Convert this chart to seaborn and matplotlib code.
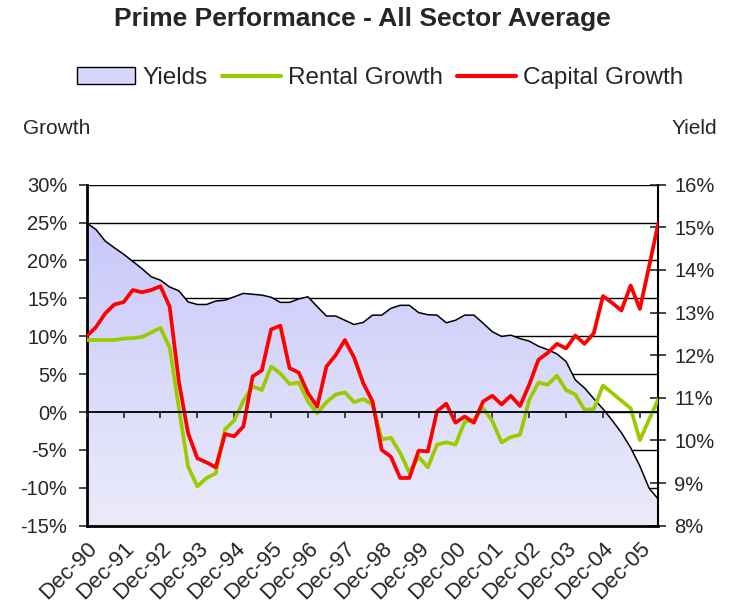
import numpy as np
import pandas as pd
import seaborn as sns
import matplotlib.pyplot as plt
from matplotlib.colors import LinearSegmentedColormap
from matplotlib.patches import Patch
from matplotlib.lines import Line2D
from matplotlib.ticker import FuncFormatter

# quarterly values, Dec-90 .. Jun-06
yields = [15.10, 14.95, 14.68, 14.52, 14.37, 14.20, 14.03, 13.84, 13.76, 13.60,
          13.51, 13.25, 13.19, 13.19, 13.27, 13.29, 13.37, 13.45, 13.43, 13.41,
          13.36, 13.24, 13.24, 13.32, 13.37, 13.14, 12.92, 12.92, 12.82, 12.72,
          12.77, 12.94, 12.94, 13.10, 13.17, 13.17, 13.00, 12.95, 12.94, 12.76,
          12.82, 12.94, 12.94, 12.75, 12.55, 12.44, 12.47, 12.39, 12.33, 12.21,
          12.13, 12.03, 11.85, 11.42, 11.23, 10.98, 10.74, 10.47, 10.18, 9.83,
          9.40, 8.88, 8.62]
rental = [9.5, 9.5, 9.5, 9.5, 9.7, 9.75, 9.9, 10.5, 11.1, 8.5,
          0.5, -7.2, -9.8, -8.7, -8.1, -2.3, -1.1, 1.5, 3.4, 2.9,
          6.0, 5.1, 3.7, 3.9, 1.4, -0.2, 1.3, 2.3, 2.6, 1.3,
          1.7, 1.0, -3.6, -3.4, -5.4, -8.0, -5.9, -7.3, -4.3, -4.0,
          -4.3, -1.3, -1.0, 0.5, -1.2, -4.0, -3.3, -3.0, 1.6, 3.9,
          3.6, 4.8, 2.9, 2.3, 0.3, 0.4, 3.5, 2.5, 1.5, 0.5,
          -3.7, -1.0, 1.7]
capital = [10.0, 11.2, 13.0, 14.2, 14.5, 16.1, 15.8, 16.1, 16.6, 13.9,
           4.0, -2.8, -6.1, -6.65, -7.3, -2.9, -3.2, -1.9, 4.7, 5.5,
           10.9, 11.4, 5.8, 5.2, 2.5, 0.7, 6.0, 7.5, 9.5, 7.2,
           3.8, 1.4, -5.0, -5.9, -8.7, -8.7, -5.1, -5.2, 0.1, 1.1,
           -1.4, -0.6, -1.4, 1.4, 2.15, 1.0, 2.15, 0.8, 3.6, 6.9,
           7.8, 9.0, 8.4, 10.1, 9.0, 10.4, 15.3, 14.4, 13.4, 16.7,
           13.6, 19.2, 24.9]
tick_labels = ['Dec-90', 'Dec-91', 'Dec-92', 'Dec-93', 'Dec-94', 'Dec-95',
               'Dec-96', 'Dec-97', 'Dec-98', 'Dec-99', 'Dec-00', 'Dec-01',
               'Dec-02', 'Dec-03', 'Dec-04', 'Dec-05']

sns.set_style('white')
plt.rcParams['font.family'] = ['Liberation Sans', 'DejaVu Sans']

df = pd.DataFrame({'q': np.arange(len(yields)), 'Yields': yields,
                   'Rental Growth': rental, 'Capital Growth': capital})
last = len(yields) - 1
pct = FuncFormatter(lambda v, p: f'{v:.0f}%')

fig = plt.figure(figsize=(7.29, 6.15), dpi=100)
rect = [86.7 / 729, 1 - 525.7 / 615, (658.3 - 86.7) / 729, (525.7 - 184.7) / 615]
ax = fig.add_axes(rect)
ax2 = ax.twinx()
ax3 = fig.add_axes(rect, sharex=ax, sharey=ax)

# growth axis (left) with the gridlines, at the back
ax.set_ylim(-15, 30)
ax.set_yticks(range(-15, 31, 5))
ax.yaxis.set_major_formatter(pct)
ax.grid(axis='y', color='black', lw=1.0)
ax.grid(axis='x', visible=False)
for s in ax.spines.values():
    s.set_visible(False)
ax.tick_params(axis='y', left=True, direction='out', length=6, width=1.2,
               pad=8, labelsize=14.5)
ax.set_xticks(range(0, len(yields), 4))
ax.set_xticklabels(tick_labels, rotation=45, ha='right', rotation_mode='anchor')
ax.tick_params(axis='x', bottom=False, length=0, pad=9, labelsize=16)

# yield area (right axis) with gradient fill
cmap = LinearSegmentedColormap.from_list('yld', ['#EBEBFA', '#C8C8FA'])
poly = ax2.fill_between(df['q'], df['Yields'], 8, facecolor='none', edgecolor='none')
img = ax2.imshow(np.linspace(0, 1, 256).reshape(-1, 1), cmap=cmap, origin='lower',
                 extent=[0, last, 8, max(yields)], aspect='auto', zorder=0.5)
img.set_clip_path(poly.get_paths()[0], transform=ax2.transData)
sns.lineplot(data=df, x='q', y='Yields', ax=ax2, color='black', lw=1.1, legend=False)
ax2.set_ylim(8, 16)
ax2.set_yticks(range(8, 17))
ax2.yaxis.set_major_formatter(pct)
ax2.tick_params(axis='y', right=True, direction='inout', length=11, width=1.2,
                pad=6, labelsize=14.5)
ax2.grid(False)
ax2.set_ylabel('')
ax2.spines['top'].set_visible(False)
ax2.spines['left'].set_linewidth(2)
ax2.spines['bottom'].set_linewidth(2)
ax2.spines['right'].set_linewidth(1.5)
for s in ['left', 'bottom', 'right']:
    ax2.spines[s].set_color('black')

# growth lines on top
ax3.patch.set_visible(False)
sns.lineplot(data=df, x='q', y='Rental Growth', ax=ax3, color='#99CC00', lw=2.7)
sns.lineplot(data=df, x='q', y='Capital Growth', ax=ax3, color='#FF0000', lw=2.7)
for s in ['top', 'left', 'right']:
    ax3.spines[s].set_visible(False)
ax3.spines['bottom'].set_position(('data', 0))
ax3.spines['bottom'].set_linewidth(1.3)
ax3.spines['bottom'].set_color('black')
ax3.tick_params(axis='x', bottom=True, direction='out', length=4, width=1.2,
                labelbottom=False)
ax3.tick_params(axis='y', left=False, labelleft=False)
ax3.grid(False)
ax3.set_xlabel('')
ax3.set_ylabel('')
ax.set_xlabel('')
ax.set_xlim(0, last)

fig.text(362 / 729, 1 - 19 / 615, 'Prime Performance - All Sector Average',
         ha='center', va='center', fontsize=19, fontweight='bold')
fig.text(57 / 729, 1 - 128 / 615, 'Growth', ha='center', va='center', fontsize=15)
fig.text(694 / 729, 1 - 128 / 615, 'Yield', ha='center', va='center', fontsize=15)

handles = [Patch(facecolor='#D6D6F8', edgecolor='black', lw=1.0),
           Line2D([], [], color='#99CC00', lw=3),
           Line2D([], [], color='#FF0000', lw=3)]
fig.legend(handles, ['Yields', 'Rental Growth', 'Capital Growth'], loc='center',
           bbox_to_anchor=(380 / 729, 1 - 78 / 615), ncol=3, frameon=False,
           fontsize=17.5, handlelength=2.4, handletextpad=0.3, columnspacing=0.6)

fig.savefig('out.png', dpi=100)
